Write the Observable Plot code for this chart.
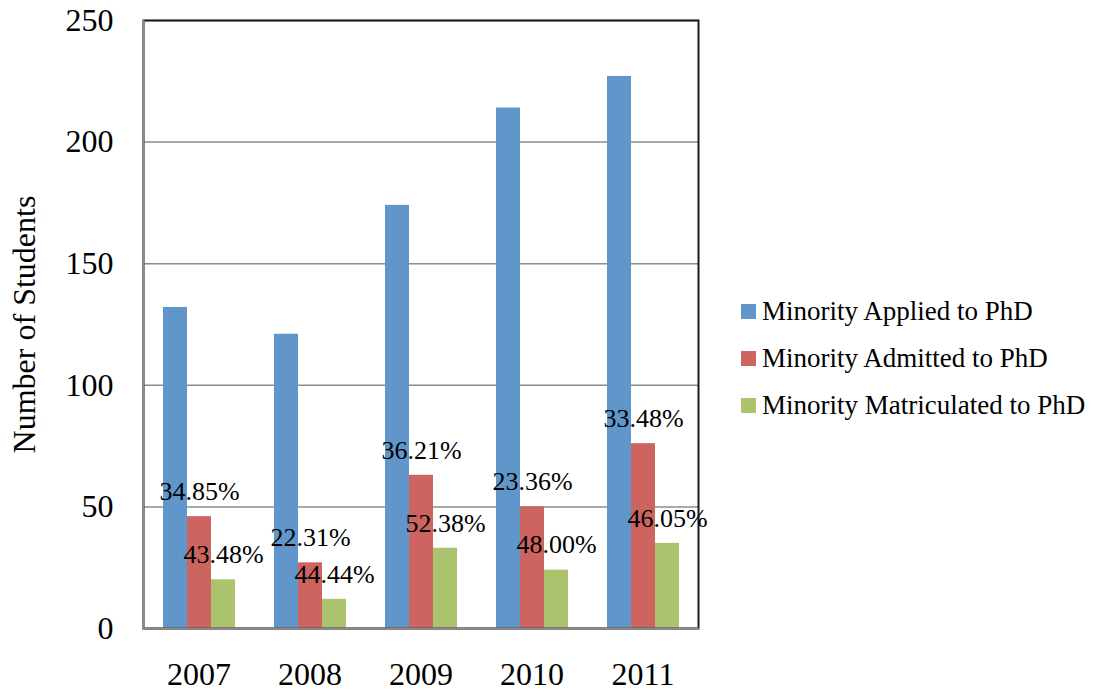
<!DOCTYPE html>
<html>
<head>
<meta charset="utf-8">
<script src="https://cdn.jsdelivr.net/npm/d3@7"></script>
<script src="https://cdn.jsdelivr.net/npm/@observablehq/plot@0.6"></script>
<style>
  html, body { margin: 0; padding: 0; background: #fff; }
  #wrap { position: relative; width: 1098px; height: 694px; font-family: 'Liberation Serif', serif; }
  #chart { position: absolute; left: 0; top: 0; }
  #chart svg text { font-family: 'Liberation Serif', serif !important; }
  #legend { position: absolute; left: 741px; top: 288px; font-size: 27px; color: #000; }
  .row { display: flex; align-items: center; height: 47px; white-space: nowrap; }
  .sw { width: 15px; height: 15px; margin-right: 6px; }
</style>
</head>
<body>
<div id="wrap">
  <div id="chart"></div>
  <div id="legend"></div>
</div>
<script>
const years = ["2007", "2008", "2009", "2010", "2011"];
const series = ["Minority Applied to PhD", "Minority Admitted to PhD", "Minority Matriculated to PhD"];
const applied = [132, 121, 174, 214, 227];
const admitted = [46, 27, 63, 50, 76];
const matriculated = [20, 12, 33, 24, 35];
const admittedPct = ["34.85%", "22.31%", "36.21%", "23.36%", "33.48%"];
const matriculatedPct = ["43.48%", "44.44%", "52.38%", "48.00%", "46.05%"];
const colors = ["#6096CA", "#CD645F", "#AAC36C"];
const yTicks = [0, 50, 100, 150, 200, 250];

const valuesBySeries = [applied, admitted, matriculated];
const rows = years.flatMap((yr, i) => series.map((s, j) => ({year: yr, series: s, value: valuesBySeries[j][i]})));
const labels = years.flatMap((yr, i) => [
  {year: yr, series: series[1], value: admitted[i], text: admittedPct[i]},
  {year: yr, series: series[2], value: matriculated[i], text: matriculatedPct[i]}
]);

const chart = Plot.plot({
  width: 720,
  height: 694,
  marginLeft: 142,
  marginRight: 22,
  marginTop: 20,
  marginBottom: 66,
  style: {fontFamily: "'Liberation Serif', serif", fontSize: "32px", color: "#000", background: "#fff", overflow: "visible"},
  fx: {domain: years, padding: 0, axis: "bottom", tickSize: 0, tickPadding: 34, label: null},
  x: {domain: series, paddingInner: 0, paddingOuter: 0.77, axis: null},
  y: {domain: [0, 250], ticks: yTicks, tickSize: 0, tickPadding: 30, label: "Number of Students", labelAnchor: "center", labelArrow: "none", labelOffset: 131},
  color: {domain: series, range: colors},
  marks: [
    Plot.gridY(yTicks, {stroke: "#8c8c8c", strokeOpacity: 1, strokeWidth: 1.5}),
    Plot.barY(rows, {fx: "year", x: "series", y: "value", fill: "series"}),
    Plot.frame({facet: "super", stroke: "#1a1a1a", strokeWidth: 2}),
    Plot.frame({facet: "super", anchor: "left", stroke: "#8a8a8a", strokeWidth: 2}),
    Plot.frame({facet: "super", anchor: "bottom", stroke: "#8a8a8a", strokeWidth: 2}),
    Plot.text(labels, {fx: "year", x: "series", y: "value", text: "text", dy: -25, fontSize: 26, fill: "#000"})
  ]
});
document.getElementById("chart").appendChild(chart);

const legend = document.getElementById("legend");
series.forEach((s, i) => {
  const row = document.createElement("div");
  row.className = "row";
  const sw = document.createElement("span");
  sw.className = "sw";
  sw.style.background = colors[i];
  const t = document.createElement("span");
  t.textContent = s;
  row.appendChild(sw);
  row.appendChild(t);
  legend.appendChild(row);
});
</script>
</body>
</html>
